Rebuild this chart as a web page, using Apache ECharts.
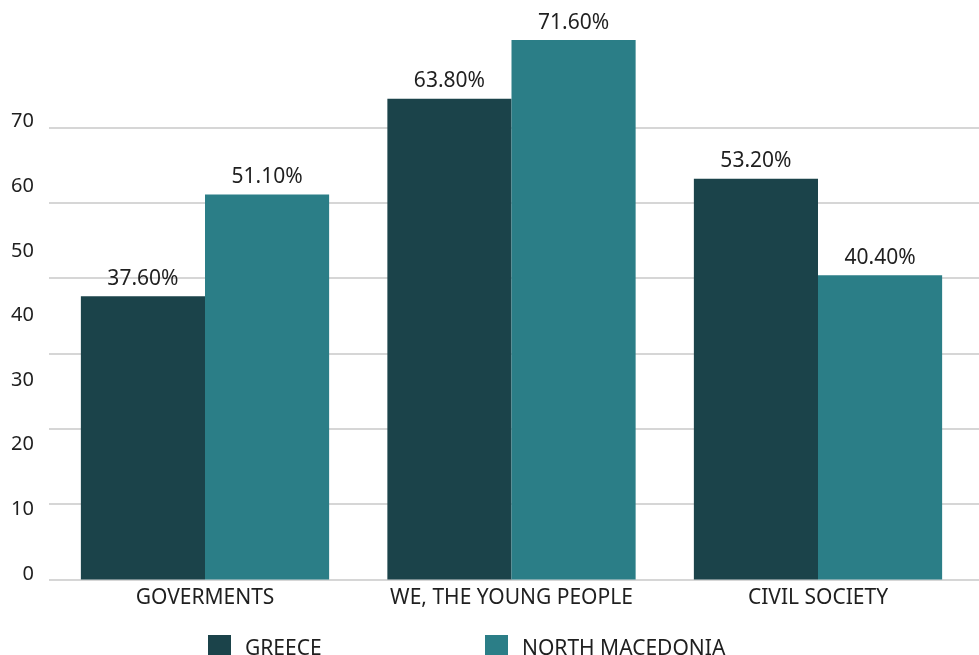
<!DOCTYPE html>
<html>
<head>
<meta charset="utf-8">
<title>Greece vs North Macedonia</title>
<script src="https://cdn.jsdelivr.net/npm/echarts@6/dist/echarts.min.js"></script>
<style>
  html, body { margin: 0; padding: 0; background: #ffffff; }
  #chart { width: 979px; height: 655px; }
</style>
</head>
<body>
<div id="chart"></div>
<script>
// Survey groups and the share of answers for each country
const categories = ['GOVERMENTS', 'WE, THE YOUNG PEOPLE', 'CIVIL SOCIETY'];
const seriesNames = ['GREECE', 'NORTH MACEDONIA'];
const greece = [37.6, 63.8, 53.2];
const northMacedonia = [51.1, 71.6, 40.4];
const tickLabels = [0, 10, 20, 30, 40, 50, 60, 70];

const FONT = '"Noto Sans", sans-serif';
const TEXT = '#1f1f1f';
const COLORS = ['#1b434a', '#2b7e87'];

const chart = echarts.init(document.getElementById('chart'), null, { renderer: 'canvas' });

const valueLabel = {
  show: true,
  position: 'top',
  distance: 7,
  color: TEXT,
  fontFamily: FONT,
  fontSize: 21,
  formatter: p => p.value.toFixed(2) + '%'
};

// Square swatch sitting at the top of a slightly taller legend row,
// so the legend text lines up a little lower than the swatch centre.
const legendBase = {
  top: 635,
  padding: 0,
  itemWidth: 23,
  itemHeight: 28,
  icon: 'path://M0,0H23V23H0Z M0,28L0.01,28',
  textStyle: { color: TEXT, fontFamily: FONT, fontSize: 21, padding: [0, 0, 0, 9] }
};

chart.setOption({
  animation: false,
  backgroundColor: '#ffffff',
  grid: [
    // bars
    { left: 51.75, right: 7.75, top: 127.5, bottom: 75.5 },
    // horizontal rules across the full width
    { left: 49, right: 0, top: 127.5, bottom: 75.5 },
    // tick label column
    { left: 42, width: 10, top: 121.7, bottom: 81 }
  ],
  xAxis: [
    {
      type: 'category',
      gridIndex: 0,
      data: categories,
      axisLine: { show: false },
      axisTick: { show: false },
      axisLabel: { interval: 0, color: TEXT, fontFamily: FONT, fontSize: 21, margin: 8 }
    },
    { type: 'value', gridIndex: 1, show: false },
    { type: 'value', gridIndex: 2, show: false }
  ],
  yAxis: [
    {
      type: 'value', gridIndex: 0, min: 0, max: 60, interval: 10,
      axisLine: { show: false }, axisTick: { show: false },
      axisLabel: { show: false }, splitLine: { show: false }
    },
    {
      type: 'value', gridIndex: 1, min: 0, max: 60, interval: 10,
      axisLine: { show: false }, axisTick: { show: false },
      axisLabel: { show: false },
      splitLine: { show: true, lineStyle: { color: '#d6d6d6', width: 2 } }
    },
    {
      type: 'value', gridIndex: 2,
      min: tickLabels[0], max: tickLabels[tickLabels.length - 1],
      interval: tickLabels[1] - tickLabels[0],
      axisLine: { show: false }, axisTick: { show: false },
      splitLine: { show: false },
      axisLabel: { color: TEXT, fontFamily: FONT, fontSize: 20, margin: 8 }
    }
  ],
  legend: [
    Object.assign({ data: [seriesNames[0]], left: 208 }, legendBase),
    Object.assign({ data: [seriesNames[1]], left: 485 }, legendBase)
  ],
  series: [
    {
      name: seriesNames[0], type: 'bar', xAxisIndex: 0, yAxisIndex: 0,
      data: greece, clip: false,
      barGap: '0%', barCategoryGap: '19%',
      itemStyle: { color: COLORS[0] },
      label: valueLabel
    },
    {
      name: seriesNames[1], type: 'bar', xAxisIndex: 0, yAxisIndex: 0,
      data: northMacedonia, clip: false,
      barGap: '0%', barCategoryGap: '19%',
      itemStyle: { color: COLORS[1] },
      label: valueLabel
    }
  ]
});
</script>
</body>
</html>
